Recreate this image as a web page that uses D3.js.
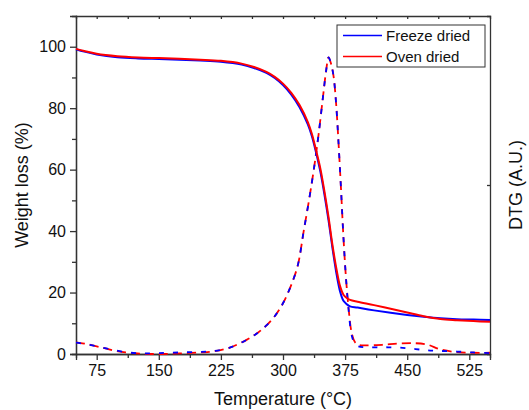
<!DOCTYPE html>
<html>
<head>
<meta charset="utf-8">
<script src="https://cdn.jsdelivr.net/npm/d3@7"></script>
<style>
  body { margin: 0; background: #fff; }
  text { font-family: "Liberation Sans", Arial, sans-serif; fill: #111; }
</style>
</head>
<body>
<div id="chart"></div>
<script>
// TG curves (weight loss %)
var tgTemp = [50, 60, 75, 100, 125, 150, 175, 200, 225, 250, 265, 280, 290, 300, 310, 320, 330, 335, 340, 345, 350, 355, 360, 365, 369, 373, 377, 381, 390, 410, 430, 450, 470, 490, 510, 530, 550];
var tgFreeze = [99.2, 98.4, 97.5, 96.6, 96.2, 96.0, 95.8, 95.5, 95.1, 94.2, 93.1, 91.5, 89.8, 87.5, 84.4, 80.3, 74.7, 70.8, 65.5, 59.5, 52, 43.5, 34, 25.5, 20.3, 17.3, 16.2, 15.5, 15.1, 14.2, 13.4, 12.7, 12.1, 11.6, 11.3, 11.2, 11.1];
var tgOven = [99.3, 98.6, 97.7, 96.9, 96.5, 96.3, 96.1, 95.8, 95.4, 94.5, 93.4, 91.8, 90.2, 88, 85, 81, 75.5, 71.5, 66.2, 60.5, 53, 44.5, 35, 27, 22, 19.3, 18.2, 17.6, 17, 15.9, 14.7, 13.5, 12.3, 11.4, 11, 10.7, 10.5];

// DTG curves (arbitrary units, drawn on the same scale)
var dtgTemp = [50, 60, 75, 90, 110, 130, 150, 175, 200, 215, 235, 256, 270, 280, 290, 300, 310, 318, 325, 332, 338, 343, 348, 352, 355, 358, 361, 364, 367, 370, 373, 376, 379, 383, 387, 391, 400, 420, 440, 460, 475, 490, 510, 530, 550];
var dtgFreeze = [3.7, 3.3, 2.5, 1.6, 0.6, 0.2, 0.3, 0.5, 0.7, 0.9, 2, 4.6, 7, 9.3, 12.3, 16.5, 22.5, 29, 40, 51, 61.5, 71.5, 83, 92, 96.5, 94.5, 90.5, 82, 69, 54, 38, 25, 15, 6, 3.2, 2.5, 2.2, 2.2, 2.1, 1.6, 1.2, 1.0, 0.8, 0.5, 0.3];
var dtgOven = [3.8, 3.4, 2.5, 1.5, 0.5, 0.1, 0.0, 0.2, 0.5, 0.8, 2, 4.6, 7, 9.3, 12.3, 16.5, 22.5, 29, 40, 51, 61.5, 71.5, 83, 92, 96.5, 94.5, 90.5, 82, 69, 54, 38, 25, 15.5, 6.8, 3.8, 3.0, 2.8, 3.0, 3.4, 3.5, 3.0, 1.5, 0.6, 0.4, 0.4];

var xTicks = [75, 150, 225, 300, 375, 450, 525];
var xMinor = [112.5, 187.5, 262.5, 337.5, 412.5, 487.5];
var yTicks = [0, 20, 40, 60, 80, 100];
var yMinor = [10, 30, 50, 70, 90];
var legendLabels = ["Freeze dried", "Oven dried"];
var colors = ["#0000ff", "#ff0000"];

var W = 529, H = 410;
var margin = {top: 16, right: 39, bottom: 56, left: 76},
  width = W - margin.left - margin.right,
  height = H - margin.top - margin.bottom;

var x = d3.scaleLinear().domain([50, 550]).range([0, width]);
var y = d3.scaleLinear().domain([0, 110]).range([height, 0]);

var svg = d3.select("#chart").append("svg")
  .attr("width", W)
  .attr("height", H);

var g = svg.append("g")
  .attr("transform", "translate(" + margin.left + "," + margin.top + ")");

var axisColor = "#333";

// bottom axis
g.append("g")
  .attr("transform", "translate(0," + height + ")")
  .call(d3.axisBottom(x).tickValues(xTicks).tickSizeOuter(0).tickSize(6).tickPadding(5));
g.append("g")
  .attr("transform", "translate(0," + height + ")")
  .call(d3.axisBottom(x).tickValues(xMinor).tickSizeOuter(0).tickSize(4).tickFormat(""));

// left axis
g.append("g")
  .call(d3.axisLeft(y).tickValues(yTicks).tickSizeOuter(0).tickSize(6).tickPadding(4));
g.append("g")
  .call(d3.axisLeft(y).tickValues(yMinor).tickSizeOuter(0).tickSize(4).tickFormat(""));

// top axis, ticks inside
g.append("g")
  .call(d3.axisTop(x).tickValues(xTicks.concat(xMinor)).tickSizeOuter(0).tickSize(-3).tickFormat(""));

// right axis (DTG), single tick inside
var yR = d3.scaleLinear().domain([0, 1]).range([height, 0]);
g.append("g")
  .attr("transform", "translate(" + width + ",0)")
  .call(d3.axisRight(yR).tickValues([0.5]).tickSizeOuter(0).tickSize(-3).tickFormat(""));

g.selectAll(".domain, .tick line")
  .attr("stroke", axisColor)
  .attr("stroke-width", 1.3);
g.selectAll(".tick text")
  .style("font-size", "16px")
  .attr("fill", "#111");

// lines
var line = function (xs) {
  return d3.line()
    .x(function (d, i) { return x(xs[i]); })
    .y(function (d) { return y(d); })
    .curve(d3.curveCatmullRom.alpha(0.5));
};

var plot = g.append("g");

// dashed DTG: red dash with blue half-dash on top, white gaps between
plot.append("path").datum(dtgOven)
  .attr("d", line(dtgTemp))
  .attr("fill", "none").attr("stroke", colors[1]).attr("stroke-width", 1.8)
  .attr("stroke-dasharray", "9,5");
plot.append("path").datum(dtgFreeze)
  .attr("d", line(dtgTemp))
  .attr("fill", "none").attr("stroke", colors[0]).attr("stroke-width", 1.8)
  .attr("stroke-dasharray", "5,9");

plot.append("path").datum(tgFreeze)
  .attr("d", line(tgTemp))
  .attr("fill", "none").attr("stroke", colors[0]).attr("stroke-width", 2);
plot.append("path").datum(tgOven)
  .attr("d", line(tgTemp))
  .attr("fill", "none").attr("stroke", colors[1]).attr("stroke-width", 2);

// legend
var leg = svg.append("g").attr("transform", "translate(337,25)");
leg.append("rect")
  .attr("width", 148).attr("height", 42)
  .attr("fill", "#fff").attr("stroke", axisColor).attr("stroke-width", 1);
legendLabels.forEach(function (lab, i) {
  var yy = 10.5 + i * 21;
  leg.append("line")
    .attr("x1", 6).attr("x2", 45).attr("y1", yy).attr("y2", yy)
    .attr("stroke", colors[i]).attr("stroke-width", 1.5);
  leg.append("text")
    .attr("x", 49).attr("y", yy + 5.5)
    .style("font-size", "15px")
    .text(lab);
});

// axis titles
svg.append("text")
  .attr("x", margin.left + width / 2).attr("y", 405)
  .attr("text-anchor", "middle")
  .style("font-size", "18px")
  .text("Temperature (°C)");

svg.append("text")
  .attr("transform", "translate(28," + (margin.top + height / 2) + ") rotate(-90)")
  .attr("text-anchor", "middle")
  .style("font-size", "18px")
  .text("Weight loss (%)");

svg.append("text")
  .attr("transform", "translate(522," + (margin.top + height / 2) + ") rotate(-90)")
  .attr("text-anchor", "middle")
  .style("font-size", "18px")
  .text("DTG (A.U.)");
</script>
</body>
</html>
